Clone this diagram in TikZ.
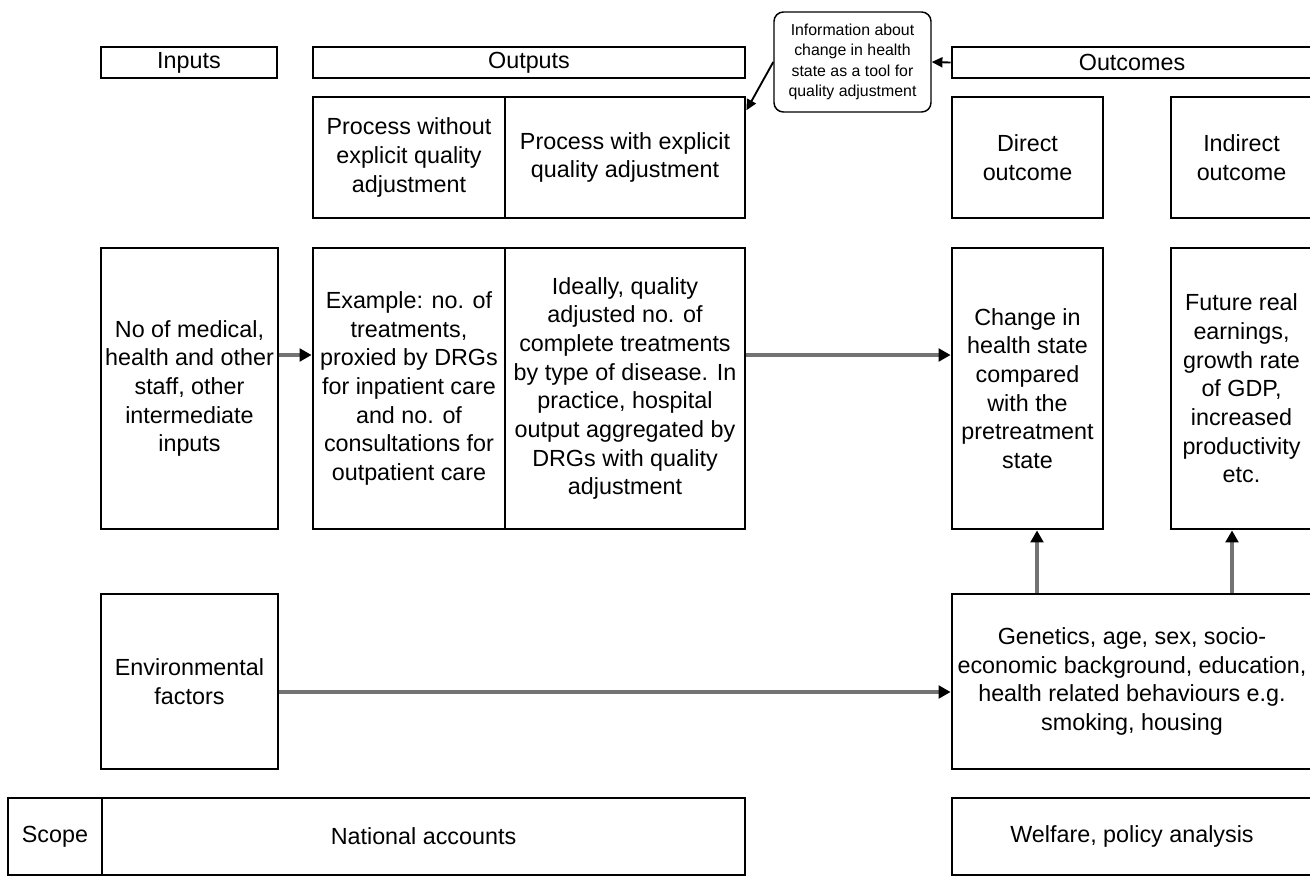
\documentclass[tikz,border=0pt]{standalone}
\usepackage{fontspec}
\setmainfont{Liberation Sans}
\usetikzlibrary{arrows.meta}
\definecolor{arrgray}{RGB}{115,115,115}
\newcommand\bx[7][box]{%
  \node[#1, minimum width={(#5-#3)*0.75pt}, minimum height={(#6-#4)*0.75pt}]
    (#2) at ({(#3+#5)/2},{(#4+#6)/2}) {#7};}
\begin{document}
\begin{tikzpicture}[x=0.75pt,y=-0.75pt,
  box/.style={draw=black, line width=2.1pt, inner sep=0pt, align=center,
    font=\fontsize{17.5}{21.5}\selectfont},
  callout/.style={draw=black, line width=1.1pt, rounded corners=7pt, inner sep=0pt,
    align=center, font=\fontsize{11.9}{15.2}\selectfont},
  garrow/.style={draw=arrgray, line width=2.4pt,
    -{Triangle[length=9pt,width=9.5pt,color=black,fill=black]}},
  carrow/.style={draw=black, line width=1.4pt, -{Triangle[length=8pt,width=7.5pt]}}]
\useasboundingbox (0,0) rectangle (1310,876);
\clip (0,0) rectangle (1310,876);
\fill[white] (0,0) rectangle (1310,876);

% header row
\bx{inh}{101}{47}{277}{78}{Inputs}
\bx{outh}{313}{47}{745}{78}{Outputs}
\bx{ouch}{952}{47}{1312}{78}{Outcomes}

% callout
\bx[callout]{call}{774}{12}{931}{112}{Information about\\change in health\\state as a tool for\\quality adjustment}

% process row
\bx{pwo}{313}{97}{505}{218}{Process without\\explicit quality\\adjustment}
\bx{pw}{505}{97}{745}{218}{Process with explicit\\quality adjustment}
\bx{dir}{952}{97}{1103}{218}{Direct\\outcome}
\bx{ind}{1171}{97}{1312}{218}{Indirect\\outcome}

% middle row
\bx{inp}{101}{248}{278}{529}{No of medical,\\health and other\\staff, other\\intermediate\\inputs}
\bx{ex}{313}{248}{505}{529}{Example: no. of\\treatments,\\proxied by DRGs\\for inpatient care\\and no. of\\consultations for\\outpatient care}
\bx{ideal}{505}{248}{745}{529}{Ideally, quality\\adjusted no. of\\complete treatments\\by type of disease. In\\practice, hospital\\output aggregated by\\DRGs with quality\\adjustment}
\bx{chg}{952}{248}{1103}{529}{Change in\\health state\\compared\\with the\\pretreatment\\state}
\bx{fut}{1171}{248}{1312}{529}{Future real\\earnings,\\growth rate\\of GDP,\\increased\\productivity\\etc.}

% environment row
\bx{env}{101}{594}{278}{769}{Environmental\\factors}
\bx{gen}{952}{594}{1312}{769}{Genetics, age, sex, socio-\\economic background, education,\\health related behaviours e.g.\\smoking, housing}

% scope row
\bx{scope}{8}{798}{102}{875}{Scope}
\bx{nat}{102}{798}{745}{875}{National accounts}
\bx{wel}{952}{798}{1312}{875}{Welfare, policy analysis}

% helper coordinates
\coordinate (ya) at (0,355);
\coordinate (yb) at (0,692);
\coordinate (xa) at (1037,0);
\coordinate (xb) at (1232,0);

% connectors
\draw[carrow] (ouch.west) -- (call.east);
\draw[carrow] (call.west) -- ([yshift=-11pt]pw.north east);
\draw[garrow] (inp.east |- ya) -- (ex.west |- ya);
\draw[garrow] (ideal.east |- ya) -- (chg.west |- ya);
\draw[garrow, line width=2.8pt] (env.east |- yb) -- (gen.west |- yb);
\draw[garrow] (gen.north -| xa) -- (chg.south -| xa);
\draw[garrow] (gen.north -| xb) -- (fut.south -| xb);
\end{tikzpicture}
\end{document}
